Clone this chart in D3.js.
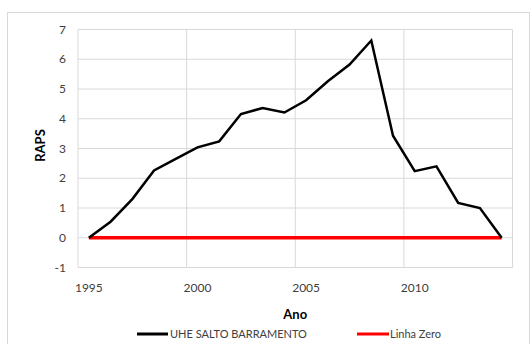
<!DOCTYPE html>
<html><head><meta charset="utf-8">
<script src="https://cdn.jsdelivr.net/npm/d3@7"></script>
<style>body{margin:0;background:#fff}text{font-family:Lato,"Open Sans",sans-serif}</style>
</head><body>
<svg id="c" width="532" height="344"></svg>
<script>
const years = [1995,1996,1997,1998,1999,2000,2001,2002,2003,2004,2005,2006,2007,2008,2009,2010,2011,2012,2013,2014];
const raps = [0,0.54,1.3,2.26,2.65,3.04,3.24,4.16,4.36,4.21,4.62,5.26,5.82,6.63,3.43,2.24,2.4,1.17,1.0,0];
const zeroLine = years.map(()=>0);
const yTicks = [-1,0,1,2,3,4,5,6,7];
const xTickLabels = [1995,2000,2005,2010];
const seriesNames = ["UHE SALTO BARRAMENTO","Linha Zero"];
const seriesColors = ["#000000","#ff0000"];

const svg = d3.select("#c");
const L=78,R=512.5,T=29.5,B=267.5;
svg.append("rect").attr("x",7.5).attr("y",12.5).attr("width",522).attr("height",340).attr("fill","#fff").attr("stroke","#d9d9d9");

const x = d3.scaleBand().domain(years).range([L,R]);
const y = d3.scaleLinear().domain([-1,7]).range([B,T]);
const cx = d => x(d)+x.bandwidth()/2;

// horizontal grid
svg.append("g").selectAll("line").data(yTicks).join("line")
  .attr("x1",L).attr("x2",R).attr("y1",d=>y(d)).attr("y2",d=>y(d))
  .attr("stroke","#d9d9d9").attr("stroke-width",1);
// vertical grid at band boundaries every 5 categories
const vb = [0,5,10,15].map(i=>x(years[i])).concat([R]);
svg.append("g").selectAll("line").data(vb).join("line")
  .attr("x1",d=>d).attr("x2",d=>d).attr("y1",T).attr("y2",B)
  .attr("stroke","#d9d9d9").attr("stroke-width",1);

// y axis labels
svg.append("g").selectAll("text").data(yTicks).join("text")
  .attr("x",66).attr("y",d=>y(d)).attr("dy","0.35em").attr("text-anchor","end")
  .attr("font-size",12).attr("fill","#404040").text(d=>d);
// x labels
svg.append("g").selectAll("text").data(xTickLabels).join("text")
  .attr("x",d=>cx(d)).attr("y",288).attr("dy","0.35em").attr("text-anchor","middle")
  .attr("font-size",12).attr("fill","#404040").text(d=>d);

svg.append("text").attr("x",(L+R)/2).attr("y",314).attr("dy","0.35em").attr("text-anchor","middle")
  .attr("font-size",13).attr("font-weight","bold").attr("fill","#000").text("Ano");
svg.append("text").attr("transform",`translate(40,${(T+B)/2-3}) rotate(-90)`).attr("dy","0.35em")
  .attr("text-anchor","middle").attr("font-size",13).attr("font-weight","bold").attr("fill","#000").text("RAPS");

const line = d3.line().x((d,i)=>cx(years[i])).y(d=>y(d));
svg.append("path").datum(zeroLine).attr("d",line).attr("fill","none").attr("stroke",seriesColors[1]).attr("stroke-width",3.5);
svg.append("path").datum(raps).attr("d",line).attr("fill","none").attr("stroke",seriesColors[0]).attr("stroke-width",2.5).attr("stroke-linejoin","miter");

// legend
const lg = [{x1:137,x2:168,tx:170},{x1:357,x2:389,tx:390}];
lg.forEach((l,i)=>{
  svg.append("line").attr("x1",l.x1).attr("x2",l.x2).attr("y1",334).attr("y2",334).attr("stroke",seriesColors[i]).attr("stroke-width",3);
  svg.append("text").attr("x",l.tx).attr("y",334).attr("dy","0.35em").attr("font-size",11).attr("fill","#404040").text(seriesNames[i]);
});
</script>
</body></html>
